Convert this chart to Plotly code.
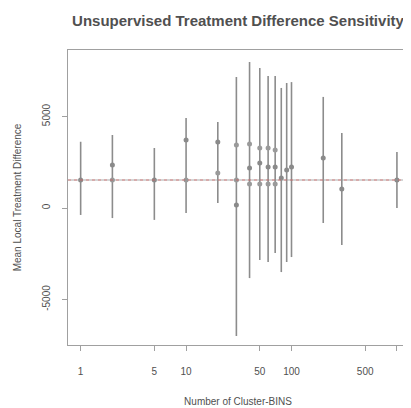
import plotly.graph_objects as go

# Number of cluster bins (x) and estimates
bins = [1, 2, 5, 10, 20, 30, 40, 50, 60, 70, 80, 90, 100, 200, 300, 1000]
ci_low = [-380, -550, -650, -270, 270, -7000, -3830, -2840, -2950, -2460, -3500, -2950, -2680, -820, -2020, 0]
ci_high = [3620, 3990, 3280, 4920, 4700, 7160, 7980, 7650, 7210, 7210, 6560, 6830, 6880, 6070, 4100, 3060]
estimate = [1530, 2350, 1530, 3720, 3600, 160, 2190, 2460, 2240, 2240, 1640, 2080, 2240, 2730, 1040, 1530]

# Secondary point estimates
sec_bins = [2, 10, 20, 30, 30, 40, 40, 50, 50, 60, 60, 70, 70]
sec_vals = [1530, 1530, 1910, 1530, 3440, 3500, 1310, 3280, 1310, 3280, 1310, 3170, 1310]

overall_effect = 1530

title = "Unsupervised Treatment Difference Sensitivity"
x_title = "Number of Cluster-BINS"
y_title = "Mean Local Treatment Difference"
x_tickvals = [1, 5, 10, 50, 100, 500, 1000]
x_ticktext = ["1", "5", "10", "50", "100", "500", ""]
y_tickvals = [-5000, 0, 5000]

fig = go.Figure()

fig.add_hline(y=overall_effect, line=dict(color="rgba(150,150,150,0.8)", width=1))
fig.add_hline(y=overall_effect, line=dict(color="rgba(220,80,80,0.6)", width=1, dash="dot"))

fig.add_trace(go.Scatter(
    x=bins, y=estimate, mode="markers",
    marker=dict(size=5, color="#8a8a8a"),
    error_y=dict(type="data", symmetric=False,
                 array=[h - e for h, e in zip(ci_high, estimate)],
                 arrayminus=[e - l for e, l in zip(estimate, ci_low)],
                 color="#8c8c8c", thickness=1.6, width=0),
    showlegend=False,
))

fig.add_trace(go.Scatter(
    x=sec_bins, y=sec_vals, mode="markers",
    marker=dict(size=5, color="#9a9a9a"),
    showlegend=False,
))

axis_font = dict(family="Liberation Sans, Arial", size=10, color="#505050")

# page body has an 8px margin, so the figure is offset by 8px
W, H = 403, 400
fig.update_layout(
    width=W, height=H,
    margin=dict(l=60, r=3, t=42, b=63),
    paper_bgcolor="white", plot_bgcolor="white",
    title=dict(text="<b>" + title + "</b>", x=230 / W, xanchor="center",
               y=1 - 13 / H, yanchor="middle",
               font=dict(family="Liberation Sans, Arial", size=15, color="#505050")),
    font=axis_font,
    xaxis=dict(type="log", range=[-0.12, 3.105],
               tickvals=x_tickvals, ticktext=x_ticktext,
               ticks="outside", ticklen=5, tickcolor="#a0a0a0",
               showline=True, linecolor="#a0a0a0", linewidth=1, mirror=True,
               showgrid=False, zeroline=False, ticklabelstandoff=12,
               title=dict(text=x_title, font=dict(size=10), standoff=21),
               tickfont=dict(size=10)),
    yaxis=dict(range=[-7486, 8634],
               tickvals=y_tickvals, ticktext=[str(v) for v in y_tickvals],
               tickangle=-90,
               ticks="outside", ticklen=5, tickcolor="#a0a0a0",
               showline=True, linecolor="#a0a0a0", linewidth=1, mirror=True,
               showgrid=False, zeroline=False, ticklabelstandoff=8,
               title=dict(text=y_title, font=dict(size=10), standoff=17),
               tickfont=dict(size=10)),
)

fig.write_html("out.html")
